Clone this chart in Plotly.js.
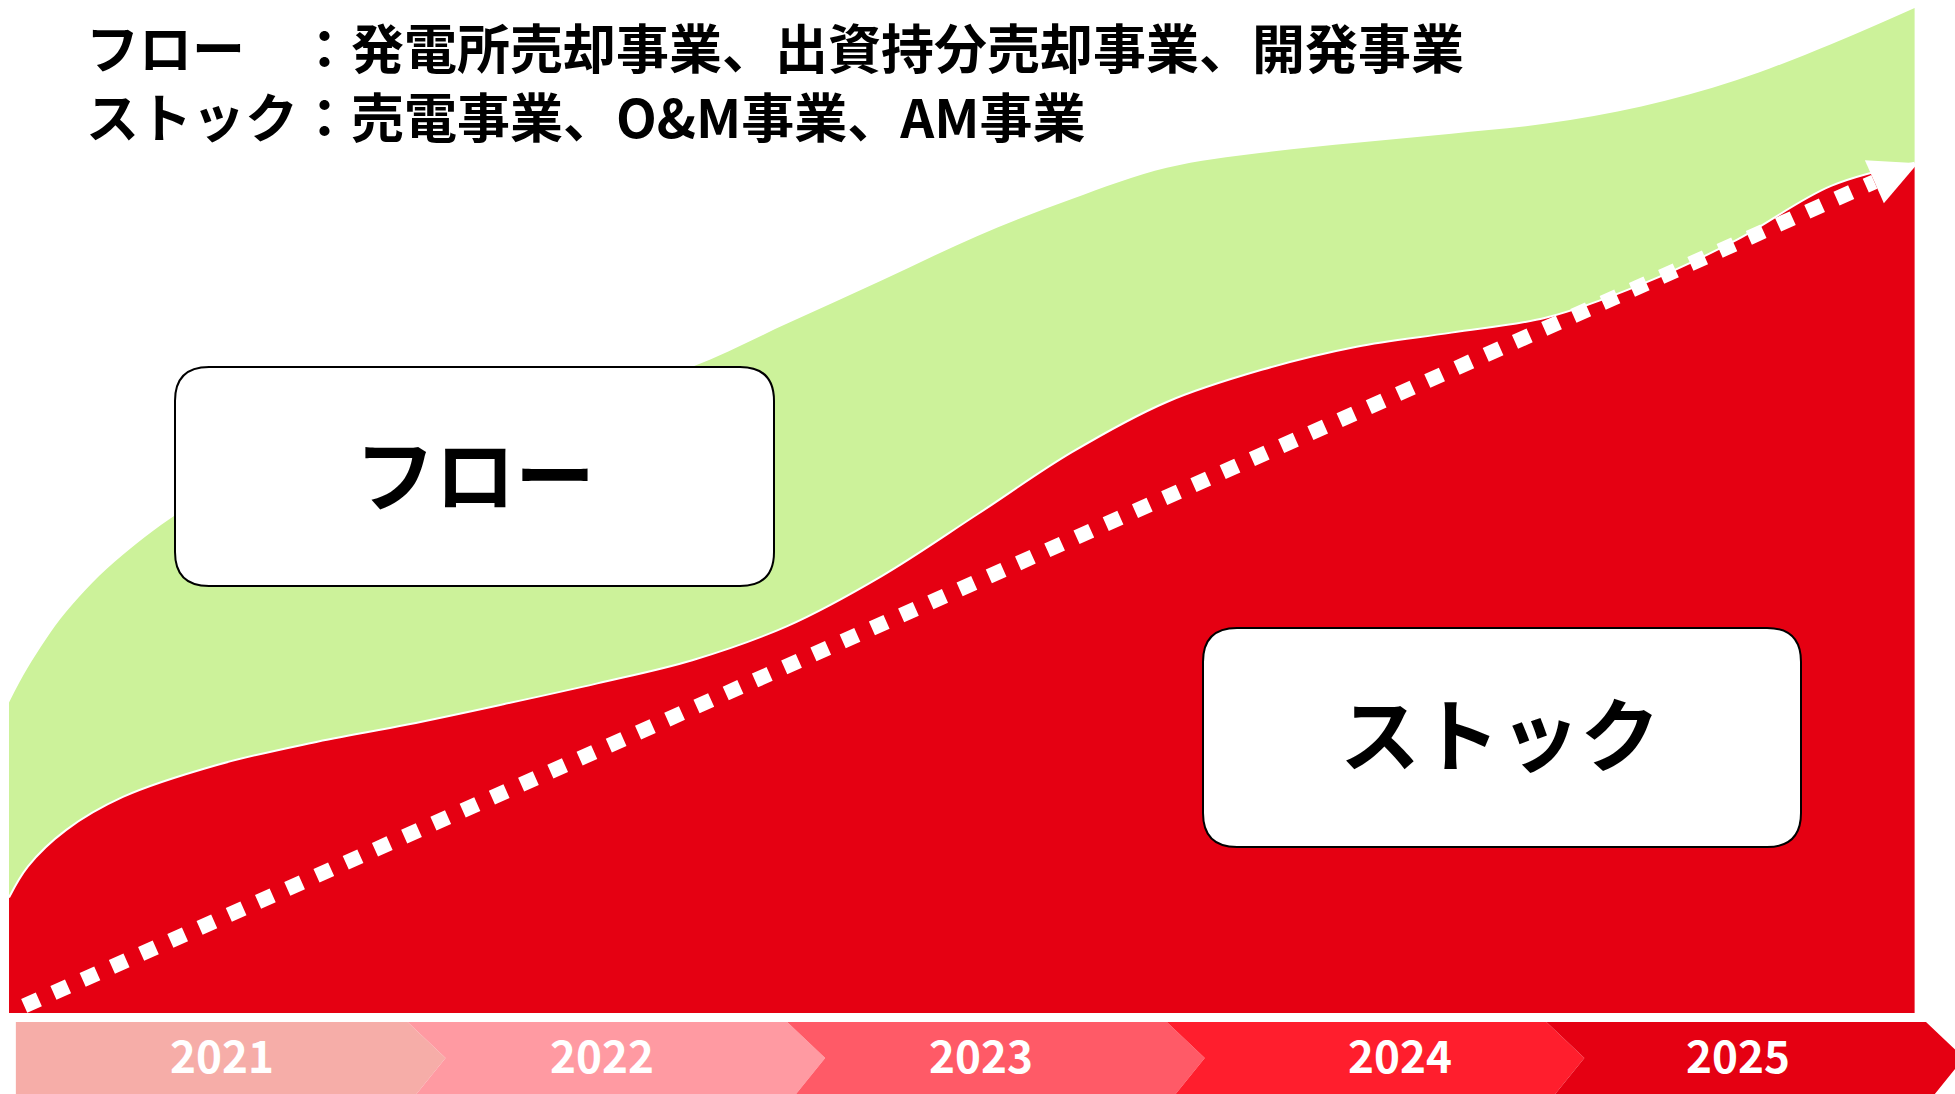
<!DOCTYPE html>
<html><head><meta charset="utf-8">
<script src="https://cdn.plot.ly/plotly-3.0.1.min.js"></script>
<style>html,body{margin:0;padding:0;background:#fff;}#chart{width:1955px;height:1094px;}</style>
</head><body><div id="chart"></div>
<script>
// ---- data ----
const timeX = [2020.95, 2021.0, 2021.1, 2021.25, 2021.5, 2021.75, 2022.0, 2022.25, 2022.5, 2022.75, 2023.0, 2023.25, 2023.5, 2023.75, 2024.0, 2024.25, 2024.5, 2024.75, 2025.0, 2025.25, 2025.5, 2025.75, 2025.97];
const stockValues = [11.5, 14.6, 18.2, 21.5, 24.7, 26.9, 28.7, 30.7, 32.8, 35.1, 38.5, 43.5, 49.6, 55.8, 60.8, 64.0, 66.3, 67.7, 69.2, 72.5, 76.9, 82.3, 84.6];
const totalValues = [30.9, 34.4, 39.9, 45.6, 52.0, 54.8, 57.0, 59.2, 61.5, 64.3, 68.6, 72.9, 77.3, 81.0, 84.1, 85.6, 86.6, 87.5, 88.5, 90.2, 92.8, 96.4, 100.0];
const trendX = [2020.99, 2025.864];
const trendY = [0.7, 82.7];
const yearLabels = ['2021', '2022', '2023', '2024', '2025'];
const yearStarts = [2021, 2022, 2023, 2024, 2025];
const titleLines = ['フロー　：発電所売却事業、出資持分売却事業、開発事業', 'ストック：売電事業、O&amp;M事業、AM事業'];
const boxLabels = ['フロー', 'ストック'];

// ---- styles ----
const W = 1955, H = 1094;
const FONT = '"Noto Sans CJK JP", "Noto Sans", sans-serif';
const chevronColors = ['#F6ADA8', '#FF9AA2', '#FF5A67', '#FF1E2D', '#E50012'];
const labelShift = [0.012, 0.013, 0.01, 0.115, 0.006];
const tipLen = 0.1, firstPad = 0.032;
const barTop = 1 - 1022 / H, barMid = 1 - 1058 / H, barBot = -0.01;

const px2x = p => p / W, py2y = p => 1 - p / H;
function roundRect(x0, y0, x1, y1, r) {
  const X = px2x, Y = py2y;
  return `M${X(x0 + r)},${Y(y0)} L${X(x1 - r)},${Y(y0)} Q${X(x1)},${Y(y0)} ${X(x1)},${Y(y0 + r)} ` +
    `L${X(x1)},${Y(y1 - r)} Q${X(x1)},${Y(y1)} ${X(x1 - r)},${Y(y1)} L${X(x0 + r)},${Y(y1)} ` +
    `Q${X(x0)},${Y(y1)} ${X(x0)},${Y(y1 - r)} L${X(x0)},${Y(y0 + r)} Q${X(x0)},${Y(y0)} ${X(x0 + r)},${Y(y0)} Z`;
}

const traces = [
  { x: timeX, y: stockValues, type: 'scatter', mode: 'lines', fill: 'tozeroy',
    fillcolor: '#E50012', line: { color: '#FFFFFF', width: 2, shape: 'spline', smoothing: 1 }, hoverinfo: 'skip' },
  { x: timeX, y: totalValues, type: 'scatter', mode: 'lines', fill: 'tonexty',
    fillcolor: '#CCF29A', line: { color: 'rgba(0,0,0,0)', width: 0, shape: 'spline', smoothing: 1 }, hoverinfo: 'skip' },
  { x: trendX, y: trendY, type: 'scatter', mode: 'lines',
    line: { color: '#FFFFFF', width: 15, dash: '16px,16px' }, hoverinfo: 'skip' }
];

const shapes = [];
yearStarts.forEach((s, i) => {
  const x0 = s, x1 = s + 1;
  let path;
  if (i === 0) {
    path = `M${x0 - firstPad},${barTop} L${x1},${barTop} L${x1 + tipLen},${barMid} L${x1},${barBot} L${x0 - firstPad},${barBot} Z`;
  } else {
    path = `M${x0},${barTop} L${x1},${barTop} L${x1 + tipLen},${barMid} L${x1},${barBot} L${x0},${barBot} L${x0 + tipLen},${barMid} Z`;
  }
  shapes.push({ type: 'path', xref: 'x', yref: 'paper', path: path, fillcolor: chevronColors[i], line: { width: 0 }, layer: 'above' });
});
// arrow head at the end of the trend line
shapes.push({ type: 'path', xref: 'x', yref: 'y', xsizemode: 'pixel', ysizemode: 'pixel',
  xanchor: trendX[1], yanchor: trendY[1], path: 'M-9.5,21.5 L43.5,18.5 L9.5,-21.5 Z',
  fillcolor: '#FFFFFF', line: { width: 0 }, layer: 'above' });
// label boxes
shapes.push({ type: 'path', xref: 'paper', yref: 'paper', path: roundRect(175, 367, 774, 586, 34),
  fillcolor: '#FFFFFF', line: { color: '#000000', width: 2 }, layer: 'above' });
shapes.push({ type: 'path', xref: 'paper', yref: 'paper', path: roundRect(1203, 628, 1801, 847, 34),
  fillcolor: '#FFFFFF', line: { color: '#000000', width: 2 }, layer: 'above' });

const annotations = [];
yearLabels.forEach((t, i) => {
  annotations.push({ text: t, x: yearStarts[i] + 0.5 + labelShift[i], xref: 'x', y: 1 - 1054 / H, yref: 'paper',
    showarrow: false, xanchor: 'center', yanchor: 'middle',
    font: { family: FONT, size: 44, color: '#FFFFFF', weight: 700 } });
});
annotations.push({ text: titleLines.join('<br>'), x: px2x(84), y: py2y(81), xref: 'paper', yref: 'paper', showarrow: false,
  xanchor: 'left', yanchor: 'middle', align: 'left', font: { family: FONT, size: 53, color: '#000000', weight: 700 } });
annotations.push({ text: boxLabels[0], x: px2x(475), y: py2y(470), xref: 'paper', yref: 'paper', showarrow: false,
  xanchor: 'center', yanchor: 'middle', font: { family: FONT, size: 80, color: '#000000', weight: 700 } });
annotations.push({ text: boxLabels[1], x: px2x(1500), y: py2y(730), xref: 'paper', yref: 'paper', showarrow: false,
  xanchor: 'center', yanchor: 'middle', font: { family: FONT, size: 80, color: '#000000', weight: 700 } });

const layout = {
  width: W, height: H, margin: { l: 0, r: 0, t: 0, b: 0, pad: 0 },
  paper_bgcolor: '#FFFFFF', plot_bgcolor: '#FFFFFF', showlegend: false,
  xaxis: { range: [2021 - 28 / 379.6, 2021 + 1927 / 379.6], visible: false, fixedrange: true },
  yaxis: { range: [-81 / 10.05, 1013 / 10.05], visible: false, fixedrange: true },
  shapes: shapes, annotations: annotations
};
Plotly.newPlot('chart', traces, layout, { staticPlot: true, displayModeBar: false });
</script></body></html>
